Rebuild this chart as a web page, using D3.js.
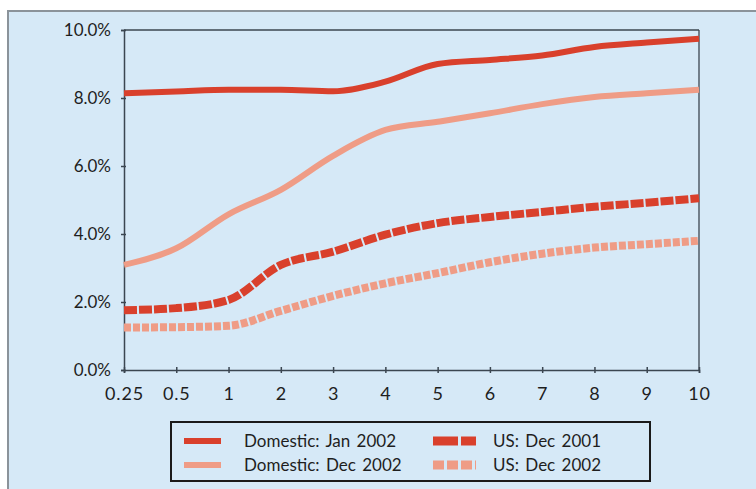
<!DOCTYPE html>
<html><head><meta charset="utf-8">
<script src="https://cdn.jsdelivr.net/npm/d3@7"></script>
<style>html,body{margin:0;padding:0;background:#fff;}svg{display:block;}</style>
</head><body>
<script>
const maturities = ["0.25","0.5","1","2","3","4","5","6","7","8","9","10"];
const domesticJan2002 = [8.14, 8.19, 8.24, 8.24, 8.2, 8.48, 9.0, 9.12, 9.25, 9.5, 9.63, 9.74];
const domesticDec2002 = [3.09, 3.58, 4.58, 5.3, 6.3, 7.06, 7.3, 7.55, 7.82, 8.03, 8.14, 8.24];
const usDec2001 = [1.76, 1.82, 2.06, 3.09, 3.48, 3.98, 4.32, 4.5, 4.65, 4.8, 4.92, 5.05];
const usDec2002 = [1.25, 1.26, 1.3, 1.74, 2.18, 2.55, 2.85, 3.17, 3.42, 3.6, 3.7, 3.8];
const yTicks = [0, 2, 4, 6, 8, 10];
const seriesNames = ["Domestic: Jan 2002", "Domestic: Dec 2002", "US: Dec 2001", "US: Dec 2002"];

const W = 756, H = 489;
const svg = d3.select("body").append("svg").attr("width", W).attr("height", H);
const font = "Lato, 'Open Sans', sans-serif";
const bg = "#d6e9f7";

svg.append("rect").attr("x", 8).attr("y", 11).attr("width", W).attr("height", H)
  .attr("fill", bg).attr("stroke", "#8b939a").attr("stroke-width", 2);

const x = d3.scalePoint().domain(maturities).range([124, 699]);
const y = d3.scaleLinear().domain([0, 10]).range([370, 30]);

const axisColor = "#3b4651";
svg.append("line").attr("x1", 124).attr("x2", 699).attr("y1", y(10)).attr("y2", y(10))
  .attr("stroke", axisColor).attr("stroke-width", 1.3);
svg.append("line").attr("x1", 699).attr("x2", 699).attr("y1", y(10)).attr("y2", y(0))
  .attr("stroke", axisColor).attr("stroke-width", 1.3);

const yAxis = svg.append("g").attr("transform", "translate(124,0)")
  .call(d3.axisLeft(y).tickValues(yTicks).tickSize(3).tickPadding(10)
    .tickFormat(d => d.toFixed(1) + "%"));
const xAxis = svg.append("g").attr("transform", `translate(0,${y(0)})`)
  .call(d3.axisBottom(x).tickSize(3).tickPadding(14));
[yAxis, xAxis].forEach(g => {
  g.select(".domain").attr("stroke", axisColor).attr("stroke-width", 1.5);
  g.selectAll(".tick line").attr("stroke", axisColor).attr("stroke-width", 1.5);
  g.selectAll(".tick text").attr("fill", "#1e1e1e").style("font-family", font)
    .style("font-size", "17px");
});
xAxis.selectAll(".tick text").style("font-size", "18px").style("letter-spacing", "0.8px");
xAxis.selectAll(".tick line").attr("y1", -3).attr("y2", 3);
yAxis.selectAll(".tick line").attr("x1", -3).attr("x2", 2);

const dark = "#d9402c", light = "#ef9c86";
const styles = [
  {color: dark, width: 6, dash: null},
  {color: light, width: 6, dash: null},
  {color: dark, width: 8, dash: "13 2"},
  {color: light, width: 8, dash: "7 2"}
];
const data = [domesticJan2002, domesticDec2002, usDec2001, usDec2002];
const line = d3.line().x((d, i) => x(maturities[i])).y(d => y(d)).curve(d3.curveMonotoneX);
data.forEach((vals, k) => {
  svg.append("path").datum(vals).attr("d", line).attr("fill", "none")
    .attr("stroke", styles[k].color).attr("stroke-width", styles[k].width)
    .attr("stroke-dasharray", styles[k].dash);
});

const lg = svg.append("g");
lg.append("rect").attr("x", 171).attr("y", 422).attr("width", 479).attr("height", 59)
  .attr("fill", bg).attr("stroke", "#1a1a1a").attr("stroke-width", 2);
const legPos = [
  {sx: 184, tx: 244, y: 441},
  {sx: 184, tx: 244, y: 465},
  {sx: 433, tx: 493, y: 441},
  {sx: 433, tx: 493, y: 465}
];
legPos.forEach((p, k) => {
  const s = styles[k];
  lg.append("line").attr("x1", p.sx).attr("x2", p.sx + 37 + (k >= 2 ? 6 : 0))
    .attr("y1", p.y).attr("y2", p.y)
    .attr("stroke", s.color).attr("stroke-width", k >= 2 ? 9 : 6)
    .attr("stroke-dasharray", k === 2 ? "25 3 13 0" : (k === 3 ? "11 3" : null));
  lg.append("text").attr("x", p.tx).attr("y", p.y).attr("dy", "0.35em")
    .attr("fill", "#1e1e1e").style("font-family", font).style("font-size", "17px")
    .style("word-spacing", "2px")
    .text(seriesNames[k]);
});
</script>
</body></html>
